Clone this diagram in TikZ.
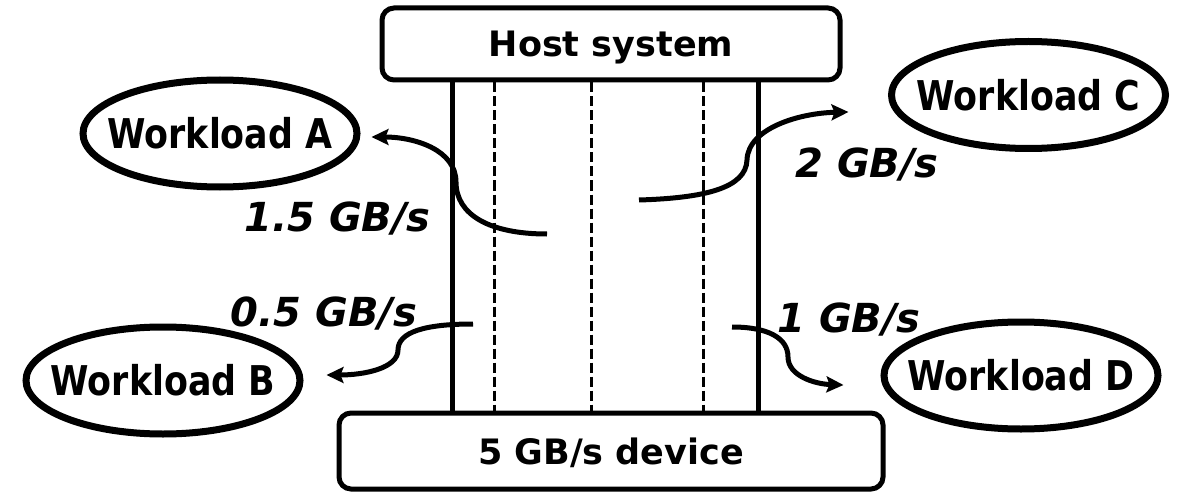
\documentclass[tikz,border=0pt]{standalone}
\usepackage{fontspec}
\setmainfont{DejaVu Sans}
\newfontfamily\wlfont{DejaVu Sans Bold}[FakeStretch=0.85]
\usetikzlibrary{shapes.geometric,arrows.meta}

\begin{document}
\begin{tikzpicture}[x=1pt,y=-1pt,
  box/.style={draw,line width=5pt,rounded corners=12pt,inner sep=0pt,
    font=\fontsize{35}{40}\selectfont\bfseries,text depth=0pt},
  wl/.style={draw,ellipse,line width=7pt,minimum width=274pt,minimum height=107pt,
    inner sep=0pt,font=\wlfont\fontsize{41}{48}\selectfont},
  lane/.style={line width=5pt},
  sublane/.style={line width=3pt,dash pattern=on 10pt off 4pt},
  flow/.style={line width=5pt,-{Stealth[length=17pt,width=16pt,inset=3pt]}},
  rate/.style={anchor=base,inner sep=0pt,font=\fontsize{40}{46}\selectfont\bfseries\itshape}]
\useasboundingbox (0,0) rectangle (1181,492);

% host and device
\node[box,minimum width=458pt,minimum height=72pt] (host) at (611,44) {Host system};
\node[box,minimum width=544pt,minimum height=76pt] (dev) at (611,451) {5 GB/s device};

% shared channel and its partitions
\foreach \x in {452,758}
  \draw[lane] (\x,0 |- host.south) -- (\x,0 |- dev.north);
\foreach \x in {494,591,703}
  \draw[sublane] (\x,0 |- host.south) -- (\x,0 |- dev.north);

% workloads (label boxed at zero width so the ellipse keeps its set size)
\node[wl] (wA) at (220,133.5) {\makebox[0pt][c]{Workload A}};
\node[wl] (wB) at (163,380.5) {\makebox[0pt][c]{Workload B}};
\node[wl] (wC) at (1028.5,95) {\makebox[0pt][c]{Workload C}};
\node[wl] (wD) at (1021,375.5) {\makebox[0pt][c]{Workload D}};

% bandwidth flows
\coordinate (sA) at (547,234);
\coordinate (sB) at (473,324);
\coordinate (sC) at (639,200);
\coordinate (sD) at (732,327);

\draw[flow] (sA) .. controls (490,234) and (456,215) .. (456,182)
  .. controls (456,150) and (415,137) .. ([shift={(11,3.5)}]wA.east);
\draw[flow] (sB) .. controls (425,324) and (398,332) .. (398,350)
  .. controls (398,368) and (365,375) .. ([shift={(23,-5.5)}]wB.east);
\draw[flow] (sC) .. controls (705,198) and (746,188) .. (747,160)
  .. controls (748,128) and (800,113) .. ([shift={(-39.5,17)}]wC.west);
\draw[flow] (sD) .. controls (768,327) and (788,338) .. (788,357)
  .. controls (788,376) and (815,384) .. ([shift={(-37,9.5)}]wD.west);

% rates
\node[rate] (rA) at (337.5,231) {1.5 GB/s};
\node[rate] (rB) at (324,326) {0.5 GB/s};
\node[rate] (rC) at (867,178) {2 GB/s};
\node[rate] (rD) at (849,332) {1 GB/s};
\end{tikzpicture}
\end{document}
